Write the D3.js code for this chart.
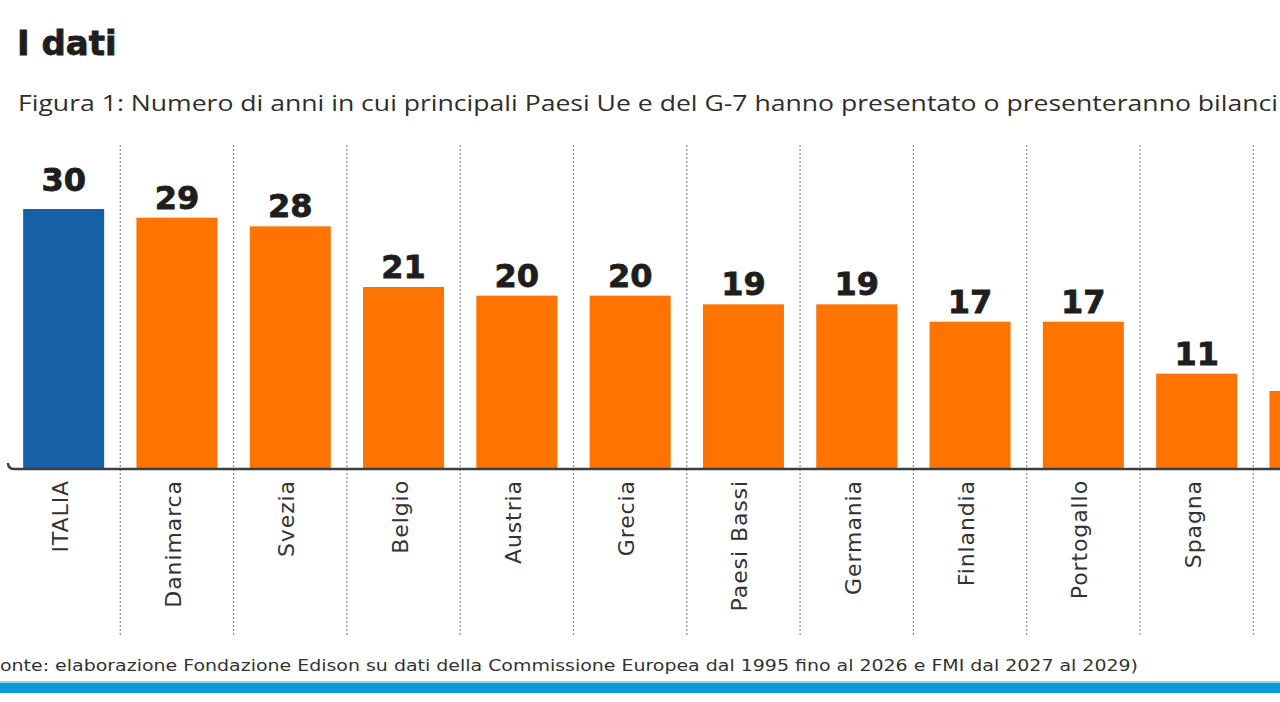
<!DOCTYPE html>
<html><head><meta charset="utf-8">
<script src="https://cdn.jsdelivr.net/npm/d3@7"></script>
<style>
html,body{margin:0;padding:0;background:#fff;overflow:hidden;}
svg{display:block;}
</style></head>
<body>
<script>
const categories = ["ITALIA","Danimarca","Svezia","Belgio","Austria","Grecia","Paesi Bassi","Germania","Finlandia","Portogallo","Spagna","Canada"];
const values = [30,29,28,21,20,20,19,19,17,17,11,9];
const highlight = ["ITALIA"];
const title = "I dati";
const subtitle = "Figura 1: Numero di anni in cui principali Paesi Ue e del G-7 hanno presentato o presenteranno bilanci";
const source = "onte: elaborazione Fondazione Edison su dati della Commissione Europea dal 1995 fino al 2026 e FMI dal 2027 al 2029)";

const W = 1280, H = 702;
const svg = d3.select("body").append("svg").attr("width", W).attr("height", H);

const step = 113.3;
const x = d3.scaleBand().domain(categories).range([7, 7 + step * categories.length])
  .paddingInner(0.285).paddingOuter(0.1425);
const y = d3.scaleLinear().domain([0, 30]).range([469, 209]);

// title
svg.append("text").attr("x", 17).attr("y", 55).text(title)
  .attr("font-family", "'DejaVu Sans', sans-serif").attr("font-weight", "bold")
  .attr("font-size", 34).attr("fill", "#1e1e1e")
  .attr("stroke", "#1e1e1e").attr("stroke-width", 0.8);
svg.append("text").attr("x", 18).attr("y", 111).text(subtitle)
  .attr("font-family", "'Open Sans', 'Noto Sans', sans-serif").attr("font-size", 21)
  .attr("fill", "#2e2e2e").attr("textLength", 1260).attr("lengthAdjust", "spacingAndGlyphs");

// dotted dividers
const dividers = categories.slice(1).map(c => x(c) - (x.step() - x.bandwidth()) / 2);
svg.append("g").selectAll("line").data(dividers).join("line")
  .attr("x1", d => d).attr("x2", d => d).attr("y1", 145).attr("y2", 635)
  .attr("stroke", "#8a8a9a").attr("stroke-width", 1.2).attr("stroke-dasharray", "2,2");

// bars
svg.append("g").selectAll("rect").data(categories).join("rect")
  .attr("x", d => x(d)).attr("width", x.bandwidth())
  .attr("y", (d, i) => y(values[i])).attr("height", (d, i) => y(0) - y(values[i]))
  .attr("fill", d => highlight.includes(d) ? "#1560a6" : "#ff7300");

// baseline
svg.append("path").attr("d", `M8,${y(0) - 6} Q8,${y(0)} 14,${y(0)} L${W},${y(0)}`)
  .attr("fill", "none").attr("stroke", "#3a3f44").attr("stroke-width", 2.5);

// only labels whose column is inside the picture
const visible = categories.filter(c => x(c) + x.bandwidth() <= W);

// value labels
svg.append("g").selectAll("text").data(visible).join("text")
  .attr("x", d => x(d) + x.bandwidth() / 2)
  .attr("y", d => y(values[categories.indexOf(d)]) - (highlight.includes(d) ? 18 : 9))
  .attr("text-anchor", "middle")
  .attr("font-family", "'DejaVu Sans', sans-serif").attr("font-weight", "bold")
  .attr("font-size", 32).attr("fill", "#1e1e1e")
  .attr("stroke", "#1e1e1e").attr("stroke-width", 0.8)
  .text(d => values[categories.indexOf(d)]);

// category labels
svg.append("g").selectAll("text").data(visible).join("text")
  .attr("transform", d => `translate(${x(d) + x.bandwidth() / 2 + 4},480) rotate(-90)`)
  .attr("text-anchor", "end")
  .attr("font-family", "'DejaVu Sans', sans-serif").attr("font-size", 22)
  .attr("fill", "#333").attr("letter-spacing", 0.9)
  .text(d => d);

// source
svg.append("text").attr("x", 0).attr("y", 671).text(source)
  .attr("font-family", "'DejaVu Sans', sans-serif").attr("font-size", 16)
  .attr("fill", "#333").attr("textLength", 1138).attr("lengthAdjust", "spacingAndGlyphs");

// bottom band
svg.append("rect").attr("x", 0).attr("y", 681).attr("width", W).attr("height", 2).attr("fill", "#9ad3ef");
svg.append("rect").attr("x", 0).attr("y", 683).attr("width", W).attr("height", 10).attr("fill", "#0d9ad9");
</script>
</body></html>
